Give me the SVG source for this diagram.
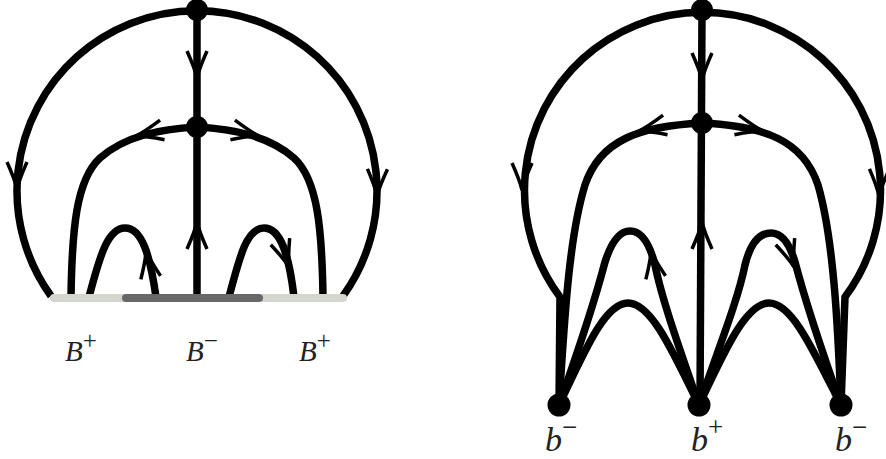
<svg xmlns="http://www.w3.org/2000/svg" xmlns:xlink="http://www.w3.org/1999/xlink" width="886" height="459" viewBox="0 0 886 459">
<style>
.ln{fill:none;stroke:#000;stroke-width:7.5;stroke-linecap:butt;stroke-linejoin:round}
.ar{fill:none;stroke:#000;stroke-width:3.5;stroke-linecap:butt}
.nd{fill:#000}
.lb{font-family:"Liberation Serif","DejaVu Serif",serif;font-style:italic;fill:#222}
.sp{font-style:normal}
</style>
<defs>
<path id="arr" class="ar" d="M-27,-10 Q-9,-2 0,0 Q-9,2 -27,10"/>
</defs>
<g id="connectors">
<path class="ln" d="M51,296 A180,180 0 1 1 343,296"/>
<path class="ln" d="M197,10 L197,297"/>
<path class="ln" d="M71,297 C72,230 76,180 100,158 C125,136 160,129 197,127 C234,129 269,136 294,158 C318,180 322,230 323,297"/>
<path class="ln" d="M89,297 C100,255 108,228 125,228 C142,228 150,255 156,297"/>
<path class="ln" d="M229,297 C240,255 247,228 264,228 C281,228 289,255 294,297"/>
<use href="#arr" transform="translate(17,189) rotate(90)"/>
<use href="#arr" transform="translate(377,196) rotate(91)"/>
<use href="#arr" transform="translate(197,78) rotate(90)"/>
<use href="#arr" transform="translate(197,222) rotate(-90)"/>
<use href="#arr" transform="translate(136,136) rotate(167)"/>
<use href="#arr" transform="translate(259,136) rotate(13)"/>
<use href="#arr" transform="translate(146,251) rotate(-100)"/>
<use href="#arr" transform="translate(289,267) rotate(71)"/>
<path class="ln" d="M559,405 L560,297 A178,178 0 1 1 845,297 L841,405"/>
<path class="ln" d="M702,10 L700,405"/>
<path class="ln" d="M559,405 C564,330 568,240 585,185 C600,140 640,126 702,123 C764,126 803,140 818,185 C834,240 838,330 841,405"/>
<path class="ln" d="M559,405 C575,360 595,300 605,262 C612,240 620,231 630,231 C642,231 650,245 655,265 C662,300 680,350 699,405"/>
<path class="ln" d="M699,405 C718,350 738,300 745,265 C750,245 758,233 771,233 C782,233 790,245 795,262 C805,300 825,360 841,405"/>
<path class="ln" d="M559,405 C585,350 605,303 628,303 C651,303 672,350 699,405"/>
<path class="ln" d="M699,405 C725,350 746,303 769,303 C792,303 813,350 841,405"/>
<use href="#arr" transform="translate(522,190) rotate(90)"/>
<use href="#arr" transform="translate(879,196) rotate(91)"/>
<use href="#arr" transform="translate(702,80) rotate(90)"/>
<use href="#arr" transform="translate(702,222) rotate(-90)"/>
<use href="#arr" transform="translate(639,131) rotate(167)"/>
<use href="#arr" transform="translate(763,131) rotate(13)"/>
<use href="#arr" transform="translate(651,251) rotate(-100)"/>
<use href="#arr" transform="translate(794,267) rotate(71)"/>
</g>
<g id="bar">
<line x1="54" y1="298" x2="125" y2="298" stroke="#d3d5cf" stroke-width="8" stroke-linecap="round"/>
<line x1="262" y1="298" x2="343" y2="298" stroke="#d3d5cf" stroke-width="8" stroke-linecap="round"/>
<line x1="126" y1="298" x2="259" y2="298" stroke="#686868" stroke-width="8" stroke-linecap="round"/>
</g>
<g id="n-top-left"><circle class="nd" cx="197" cy="10" r="11"/></g>
<g id="n-mid-left"><circle class="nd" cx="197" cy="127" r="11"/></g>
<g id="n-top-right"><circle class="nd" cx="702" cy="10" r="11"/></g>
<g id="n-mid-right"><circle class="nd" cx="702" cy="123" r="11"/></g>
<g id="n-bm1"><circle class="nd" cx="559" cy="405" r="11.5"/></g>
<g id="n-bp"><circle class="nd" cx="699" cy="405" r="11.5"/></g>
<g id="n-bm2"><circle class="nd" cx="841" cy="405" r="11.5"/></g>
<g id="labels">
<text class="lb" x="65" y="361" font-size="29">B<tspan class="sp" font-size="25" dy="-12">+</tspan></text>
<text class="lb" x="186" y="361" font-size="29">B<tspan class="sp" font-size="25" dy="-12">−</tspan></text>
<text class="lb" x="299" y="361" font-size="29">B<tspan class="sp" font-size="25" dy="-12">+</tspan></text>
<text class="lb" x="545" y="451" font-size="34">b<tspan class="sp" font-size="27" dy="-15">−</tspan></text>
<text class="lb" x="691" y="451" font-size="34">b<tspan class="sp" font-size="27" dy="-15">+</tspan></text>
<text class="lb" x="835" y="451" font-size="34">b<tspan class="sp" font-size="27" dy="-15">−</tspan></text>
</g>
</svg>
